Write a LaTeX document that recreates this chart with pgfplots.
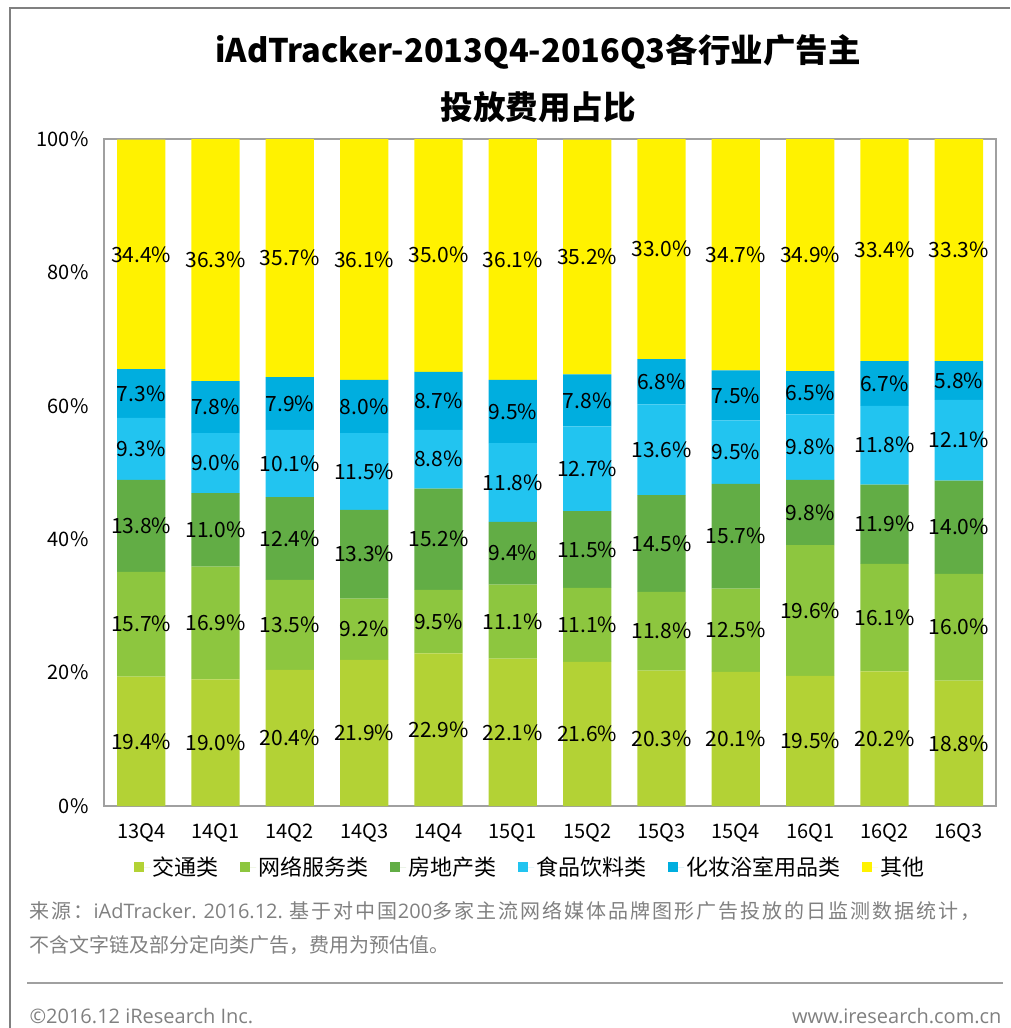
\documentclass[border=0pt]{standalone}
\usepackage{pgfplots}
\pgfplotsset{compat=1.18}
\usepackage{pgfplotstable}
\usepackage{fontspec}
\setmainfont{Noto Sans CJK SC}
\newfontfamily\lat{Open Sans}
\newfontfamily\cjkwide[LetterSpace=10]{Noto Sans CJK SC}
\definecolor{c1}{HTML}{B3D235}
\definecolor{c2}{HTML}{8DC63F}
\definecolor{c3}{HTML}{62AD45}
\definecolor{c4}{HTML}{22C4F0}
\definecolor{c5}{HTML}{00AEDF}
\definecolor{c6}{HTML}{FFF200}
\definecolor{framegray}{HTML}{A0A0A0}
\definecolor{srcgray}{HTML}{808080}
\pgfplotstableread{
x a b c d e f
0 19.4 15.7 13.8 9.3 7.3 34.4
1 19.0 16.9 11.0 9.0 7.8 36.3
2 20.4 13.5 12.4 10.1 7.9 35.7
3 21.9 9.2 13.3 11.5 8.0 36.1
4 22.9 9.5 15.2 8.8 8.7 35.0
5 22.1 11.1 9.4 11.8 9.5 36.1
6 21.6 11.1 11.5 12.7 7.8 35.2
7 20.3 11.8 14.5 13.6 6.8 33.0
8 20.1 12.5 15.7 9.5 7.5 34.7
9 19.5 19.6 9.8 9.8 6.5 34.9
10 20.2 16.1 11.9 11.8 6.7 33.4
11 18.8 16.0 14.0 12.1 5.8 33.3
}\datatable
\pgfplotsset{
  common/.style={
    at={(104pt,-806pt)}, anchor=south west,
    width=892pt, height=667pt, scale only axis,
    xmin=-0.5, xmax=11.5, ymin=0, ymax=100,
  },
  lbl/.style={draw=none, no markers, point meta=explicit,
    nodes near coords={\pgfmathprintnumber[fixed,fixed zerofill,precision=1,assume math mode=true]{\pgfplotspointmeta}\%},
    every node near coord/.style={anchor=center, font=\fontsize{21}{24}\selectfont, text=black}},
}
\begin{document}
\begin{tikzpicture}
\path[use as bounding box] (0pt,0pt) rectangle (1010pt,-1028pt);
\draw[srcgray, line width=2pt] (10pt,-1028pt) -- (10pt,-8pt) -- (1010pt,-8pt);
\node[font=\fontsize{32.5}{36}\selectfont\bfseries] at (538pt,-52pt) {iAdTracker-2013Q4-2016Q3各行业广告主};
\node[font=\fontsize{32.5}{36}\selectfont\bfseries] at (538pt,-107pt) {投放费用占比};
\begin{axis}[common,
  ybar stacked, bar width=0.65,
  axis line style={framegray, line width=1.5pt},
  major tick length=0pt,
  xtick={0,...,11},
  xticklabels={13Q4,14Q1,14Q2,14Q3,14Q4,15Q1,15Q2,15Q3,15Q4,16Q1,16Q2,16Q3},
  ytick={0,20,40,60,80,100},
  yticklabels={0\%,20\%,40\%,60\%,80\%,100\%},
  xticklabel style={font=\fontsize{20}{24}\selectfont, yshift=-14pt},
  yticklabel style={font=\fontsize{20}{24}\selectfont, xshift=-12pt},
  legend style={at={(0.4776,-0.0915)}, anchor=center, draw=none,
    font=\fontsize{22}{24}\selectfont, inner sep=0pt,
    /tikz/every even column/.append style={column sep=20pt}},
  legend columns=6,
  legend image code/.code={\fill[#1] (0pt,-5pt) rectangle (10pt,5pt); \path (0pt,0pt) -- (16pt,0pt);},
]
\addplot[fill=c1, draw=none] table[x=x, y=a] {\datatable};
\addplot[fill=c2, draw=none] table[x=x, y=b] {\datatable};
\addplot[fill=c3, draw=none] table[x=x, y=c] {\datatable};
\addplot[fill=c4, draw=none] table[x=x, y=d] {\datatable};
\addplot[fill=c5, draw=none] table[x=x, y=e] {\datatable};
\addplot[fill=c6, draw=none] table[x=x, y=f] {\datatable};
\legend{交通类,网络服务类,房地产类,食品饮料类,化妆浴室用品类,其他}
\end{axis}
\begin{axis}[common, hide axis, clip=false]
\addplot[lbl] table[x=x, y expr=\thisrow{a}/2, meta=a] {\datatable};
\addplot[lbl] table[x=x, y expr=\thisrow{a}+\thisrow{b}/2, meta=b] {\datatable};
\addplot[lbl] table[x=x, y expr=\thisrow{a}+\thisrow{b}+\thisrow{c}/2, meta=c] {\datatable};
\addplot[lbl] table[x=x, y expr=\thisrow{a}+\thisrow{b}+\thisrow{c}+\thisrow{d}/2, meta=d] {\datatable};
\addplot[lbl] table[x=x, y expr=\thisrow{a}+\thisrow{b}+\thisrow{c}+\thisrow{d}+\thisrow{e}/2, meta=e] {\datatable};
\addplot[lbl] table[x=x, y expr=\thisrow{a}+\thisrow{b}+\thisrow{c}+\thisrow{d}+\thisrow{e}+\thisrow{f}/2, meta=f] {\datatable};
\end{axis}
\node[anchor=west, text=srcgray, font=\fontsize{20}{24}\selectfont] at (26pt,-911pt) {{\cjkwide 来源：}{\lat iAdTracker. 2016.12. }{\cjkwide 基于对中国}{\lat 200}{\cjkwide 多家主流网络媒体品牌图形广告投放的日监测数据统计，}};
\node[anchor=west, text=srcgray, font=\fontsize{20}{24}\selectfont] at (26pt,-945pt) {不含文字链及部分定向类广告，费用为预估值。};
\draw[framegray, line width=1.5pt] (27pt,-983pt) -- (1003pt,-983pt);
\node[anchor=west, text=srcgray, font=\fontsize{20}{24}\selectfont\lat] at (26pt,-1016pt) {©2016.12 iResearch Inc.};
\node[anchor=east, text=srcgray, font=\fontsize{20}{24}\selectfont\lat] at (1005pt,-1016pt) {www.iresearch.com.cn};
\end{tikzpicture}
\end{document}
